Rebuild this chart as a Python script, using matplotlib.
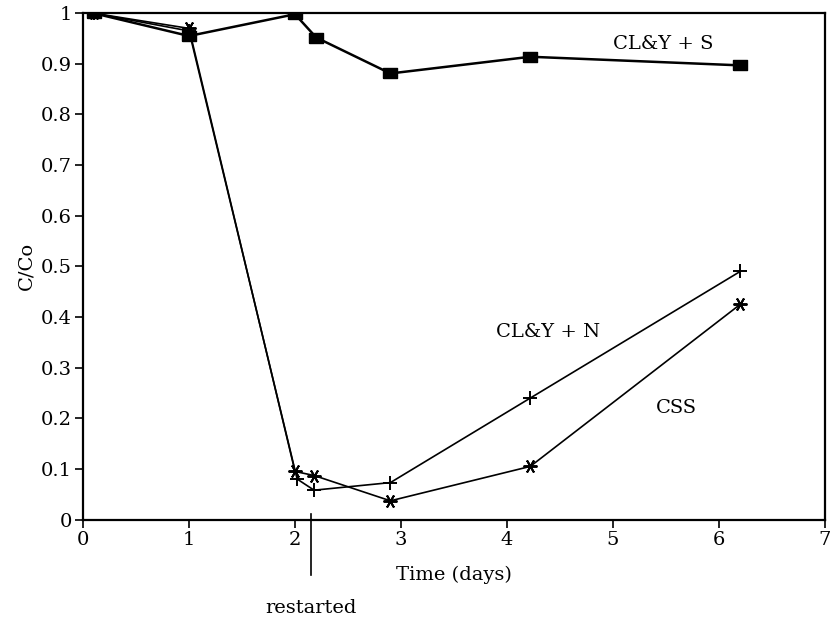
import numpy as np
import matplotlib
matplotlib.use("Agg")
import matplotlib.pyplot as plt

plt.rcParams['font.family'] = ['DejaVu Serif']

# CL&Y + S (filled squares)
sq_x = [0.1, 1.0, 2.0, 2.2, 2.9, 4.22, 6.2]
sq_y = [1.0, 0.955, 0.998, 0.952, 0.881, 0.914, 0.897]

# CL&Y + N (plus)
pl_x = [0.1, 1.0, 2.02, 2.18, 2.9, 4.22, 6.2]
pl_y = [1.0, 0.965, 0.08, 0.058, 0.073, 0.24, 0.49]

# CSS (asterisk)
st_x = [0.1, 1.0, 2.0, 2.18, 2.9, 4.22, 6.2]
st_y = [1.0, 0.97, 0.095, 0.087, 0.037, 0.105, 0.425]

restart_x = 2.15

# wide filled rectangle like the old plotter squares
rect = [(-1.4, -1), (1.4, -1), (1.4, 1), (-1.4, 1), (-1.4, -1)]

fig = plt.figure(figsize=(8.3, 6.29), dpi=100)
ax = fig.add_axes([0.1, 0.174, 0.894, 0.805])

ax.plot(pl_x, pl_y, color='black', lw=1.2, marker='+', ms=10, mew=1.4)
ax.plot(st_x, st_y, color='black', lw=1.2, marker=(6, 2, 90), ms=10, mew=1.4)
ax.plot(sq_x, sq_y, color='black', lw=1.8, marker=rect, ms=10, mew=1)

ax.set_xlim(0, 7)
ax.set_ylim(0, 1)
ax.set_xticks(range(0, 8))
ax.set_yticks(np.arange(0, 1.01, 0.1))
ax.set_yticklabels(['0', '0.1', '0.2', '0.3', '0.4', '0.5', '0.6', '0.7', '0.8', '0.9', '1'])
ax.tick_params(direction='out', length=6, width=1.2, labelsize=14, colors='black', pad=2)
for s in ax.spines.values():
    s.set_linewidth(1.6)

ax.set_xlabel('Time (days)', fontsize=14, labelpad=12)
ax.set_ylabel('C/Co', fontsize=14, labelpad=4)

ax.text(5.0, 0.94, 'CL&Y + S', fontsize=14, ha='left', va='center')
ax.text(3.9, 0.37, 'CL&Y + N', fontsize=14, ha='left', va='center')
ax.text(5.4, 0.22, 'CSS', fontsize=14, ha='left', va='center')

# restarted marker below the axis
ax.plot([restart_x, restart_x], [0.01, -0.11], color='black', lw=1.2, clip_on=False)
ax.text(restart_x, -0.175, 'restarted', fontsize=14, ha='center', va='center')

fig.savefig('out.png', dpi=100)
